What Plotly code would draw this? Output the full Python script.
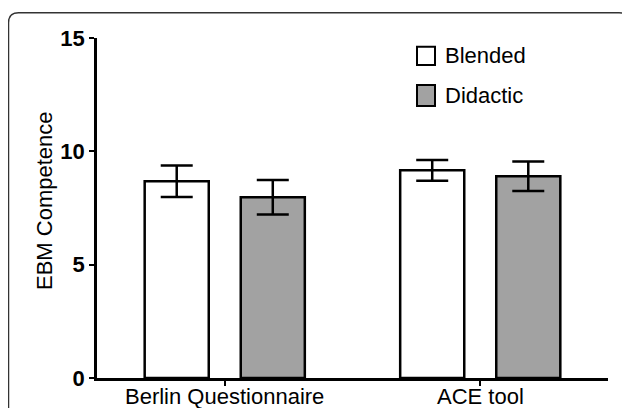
import plotly.graph_objects as go

categories = ["Berlin Questionnaire", "ACE tool"]
blended_mean = [8.68, 9.16]
blended_err = [0.69, 0.46]
didactic_mean = [7.97, 8.90]
didactic_err = [0.76, 0.65]
series_names = ["Blended", "Didactic"]
y_ticks = [0, 5, 10, 15]

FONT = "Liberation Sans, Arial, sans-serif"
GRAY = "#a2a2a2"

# page body adds an 8px margin; figure is sized to fit the window
OFF = 8
W, H = 630 - OFF, 408 - OFF
# plot area in reference-window pixels
PL, PT, PR, PB = 97, 38, 608, 378
L, T = PL - OFF, PT - OFF
PW, PH = PR - PL, PB - PT
R, B = W - L - PW, H - T - PH


def px(x):
    return (x - PL) / PW


def py(y):
    return (PB - y) / PH


fig = go.Figure()
fig.add_trace(go.Bar(
    x=categories, y=blended_mean, name=series_names[0],
    marker=dict(color="white", line=dict(color="black", width=2.5)),
    error_y=dict(type="data", array=blended_err, color="black", thickness=2.5, width=16),
    showlegend=False,
))
fig.add_trace(go.Bar(
    x=categories, y=didactic_mean, name=series_names[1],
    marker=dict(color=GRAY, line=dict(color="black", width=2.5)),
    error_y=dict(type="data", array=didactic_err, color="black", thickness=2.5, width=16),
    showlegend=False,
))

shapes = []
legend_y = [(46.7, 65.0), (85.0, 106.0)]
legend_fill = ["white", GRAY]
annotations = []
for (y0, y1), fill, name in zip(legend_y, legend_fill, series_names):
    shapes.append(dict(type="rect", xref="paper", yref="paper",
                       x0=px(417), x1=px(435), y0=py(y1), y1=py(y0),
                       line=dict(color="black", width=2), fillcolor=fill))
    annotations.append(dict(xref="paper", yref="paper", x=px(443), y=py((y0 + y1) / 2),
                            text=name, showarrow=False, xanchor="left", yanchor="middle",
                            font=dict(family=FONT, size=22, color="black")))

annotations.append(dict(xref="paper", yref="paper", x=px(44), y=py(201),
                        text="EBM Competence", showarrow=False, textangle=-90,
                        xanchor="center", yanchor="middle",
                        font=dict(family=FONT, size=22, color="black")))

# category labels placed just under the axis
for cat in categories:
    annotations.append(dict(xref="x", yref="paper", x=cat, y=py(396),
                            text=cat, showarrow=False, xanchor="center", yanchor="middle",
                            borderpad=0,
                            font=dict(family=FONT, size=22, color="black")))

# rounded outer border
bx0, by0, bx1, by1, rr = 8.5, 12.7, 629.0, 440.0, 10
path = (f"M {px(bx0)},{py(by1)} L {px(bx0)},{py(by0 + rr)} "
        f"Q {px(bx0)},{py(by0)} {px(bx0 + rr)},{py(by0)} "
        f"L {px(bx1 - rr)},{py(by0)} Q {px(bx1)},{py(by0)} {px(bx1)},{py(by0 + rr)} "
        f"L {px(bx1)},{py(by1)}")
shapes.append(dict(type="path", xref="paper", yref="paper", path=path,
                   line=dict(color="#333333", width=1.5)))

fig.update_layout(
    width=W, height=H,
    margin=dict(l=L, r=R, t=T, b=B, pad=0),
    paper_bgcolor="white", plot_bgcolor="white",
    barmode="group", bargap=0.248, bargroupgap=0.333,
    shapes=shapes, annotations=annotations,
    showlegend=False,
    font=dict(family=FONT, color="black"),
)
fig.update_xaxes(
    range=[-0.5, 1.5], showline=True, linecolor="black", linewidth=2.5,
    ticks="outside", ticklen=5, tickwidth=2, tickcolor="black",
    showticklabels=False,
    showgrid=False, zeroline=False, automargin=False,
)
fig.update_yaxes(
    range=[0, 15], tickvals=y_ticks, showline=True, linecolor="black", linewidth=2.5,
    ticks="outside", ticklen=5, tickwidth=2, tickcolor="black",
    tickfont=dict(family=FONT, size=22, color="black", weight="bold"),
    showgrid=False, zeroline=False, automargin=False,
)

fig.write_html("out.html", config={"displayModeBar": False})
